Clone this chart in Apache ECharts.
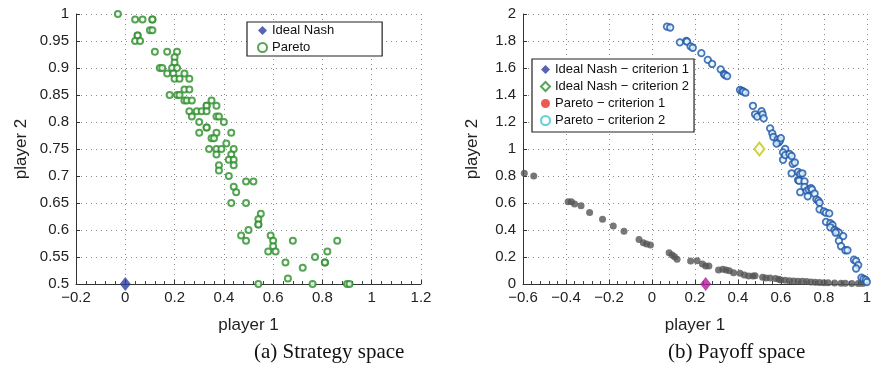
<!DOCTYPE html>
<html>
<head>
<meta charset="utf-8">
<script src="https://cdn.jsdelivr.net/npm/echarts@6/dist/echarts.min.js"></script>
<style>
  html, body { margin: 0; padding: 0; background: #fff; }
  #chart { width: 874px; height: 371px; }
</style>
</head>
<body>
<div id="chart"></div>
<script>
// (a) strategy space
const nashA = [[0, 0.5]]
const paretoAX = [-0.03, 0.04, 0.07, 0.11, 0.11, 0.10, 0.11, 0.05, 0.05, 0.04, 0.06,
  0.12, 0.17, 0.21, 0.20, 0.20, 0.14, 0.15, 0.19, 0.21, 0.17, 0.195, 0.24,
  0.20, 0.22, 0.26, 0.24, 0.26, 0.18, 0.21, 0.22, 0.24, 0.25, 0.27, 0.35,
  0.33, 0.33, 0.37, 0.26, 0.29, 0.31, 0.33, 0.27, 0.37, 0.38, 0.30, 0.40,
  0.33, 0.33, 0.30, 0.37, 0.43, 0.35, 0.36, 0.41, 0.34, 0.37, 0.39, 0.44,
  0.37, 0.43, 0.42, 0.44, 0.38, 0.44, 0.38, 0.42, 0.49, 0.52, 0.44, 0.45,
  0.43, 0.49, 0.55, 0.54, 0.54, 0.54, 0.50, 0.47, 0.59, 0.49, 0.60, 0.68, 0.86,
  0.60, 0.58, 0.61, 0.82, 0.77, 0.65, 0.81, 0.81, 0.72, 0.66, 0.54, 0.76, 0.90, 0.91]
const paretoAY = [1.0, 0.99, 0.99, 0.99, 0.99, 0.97, 0.97, 0.96, 0.96, 0.95, 0.95,
  0.93, 0.93, 0.93, 0.92, 0.91, 0.90, 0.90, 0.90, 0.90, 0.89, 0.89, 0.89,
  0.88, 0.88, 0.88, 0.86, 0.86, 0.85, 0.85, 0.85, 0.84, 0.84, 0.84, 0.84,
  0.83, 0.83, 0.83, 0.82, 0.82, 0.82, 0.82, 0.81, 0.81, 0.81, 0.80, 0.80,
  0.79, 0.79, 0.78, 0.78, 0.78, 0.77, 0.77, 0.76, 0.75, 0.75, 0.75, 0.75,
  0.74, 0.74, 0.73, 0.73, 0.72, 0.72, 0.71, 0.70, 0.69, 0.69, 0.68, 0.67,
  0.65, 0.65, 0.63, 0.62, 0.61, 0.61, 0.60, 0.59, 0.59, 0.58, 0.58, 0.58, 0.58,
  0.57, 0.56, 0.56, 0.56, 0.55, 0.54, 0.54, 0.54, 0.53, 0.51, 0.50, 0.50, 0.50, 0.50]

// (b) payoff space
const nash1B = [[0.25, 0]]
const nash2B = [[0.5, 1.0]]
const front1X = [-0.594, -0.55, -0.39, -0.375, -0.36, -0.33, -0.29, -0.23, -0.18, -0.13,
  -0.06, -0.04, -0.025, -0.007, 0.08, 0.094, 0.105, 0.117, 0.18, 0.21, 0.235, 0.25, 0.265,
  0.31, 0.33, 0.345, 0.36, 0.38, 0.41, 0.43, 0.45, 0.47, 0.48, 0.515, 0.53, 0.55, 0.575,
  0.59, 0.60, 0.62, 0.64, 0.66, 0.68, 0.70, 0.72, 0.74, 0.76, 0.78, 0.80, 0.82, 0.85,
  0.88, 0.90, 0.93, 0.96, 0.98]
const front1Y = [0.82, 0.80, 0.61, 0.61, 0.593, 0.58, 0.53, 0.48, 0.43, 0.39,
  0.33, 0.306, 0.296, 0.289, 0.232, 0.215, 0.202, 0.183, 0.17, 0.173, 0.148, 0.133, 0.133,
  0.104, 0.109, 0.104, 0.099, 0.084, 0.079, 0.067, 0.059, 0.059, 0.061, 0.05, 0.044, 0.044, 0.04,
  0.035, 0.03, 0.028, 0.025, 0.022, 0.02, 0.02, 0.018, 0.015, 0.013, 0.012, 0.01, 0.01, 0.008,
  0.006, 0.005, 0.004, 0.004, 0.003]
const front2X = [0.07, 0.085, 0.13, 0.16, 0.163, 0.18, 0.19, 0.23, 0.26, 0.28, 0.32, 0.335,
  0.34, 0.35, 0.41, 0.42, 0.425, 0.435, 0.47, 0.48, 0.49, 0.51, 0.515, 0.52, 0.55, 0.56,
  0.565, 0.585, 0.59, 0.595, 0.60, 0.58, 0.62, 0.61, 0.61, 0.62, 0.64, 0.65, 0.655, 0.665,
  0.65, 0.68, 0.69, 0.70, 0.68, 0.685, 0.71, 0.69, 0.71, 0.72, 0.73, 0.74, 0.745, 0.725,
  0.757, 0.765, 0.774, 0.78, 0.78, 0.80, 0.81, 0.825, 0.81, 0.83, 0.84, 0.83, 0.85, 0.86,
  0.87, 0.855, 0.89, 0.87, 0.88, 0.90, 0.91, 0.94, 0.95, 0.96, 0.95, 0.975, 0.985, 0.995, 1.0]
const front2Y = [1.906, 1.90, 1.79, 1.80, 1.795, 1.76, 1.75, 1.71, 1.66, 1.63, 1.59, 1.556,
  1.548, 1.54, 1.437, 1.43, 1.425, 1.417, 1.32, 1.257, 1.24, 1.28, 1.257, 1.227, 1.153, 1.116,
  1.089, 1.07, 1.05, 1.06, 1.08, 1.04, 1.0, 0.975, 0.92, 0.955, 0.963, 0.948, 0.89, 0.9,
  0.82, 0.83, 0.815, 0.82, 0.77, 0.765, 0.76, 0.68, 0.72, 0.69, 0.70, 0.71, 0.70, 0.65,
  0.67, 0.627, 0.617, 0.602, 0.553, 0.538, 0.528, 0.523, 0.46, 0.45, 0.437, 0.42, 0.40, 0.39,
  0.38, 0.38, 0.355, 0.32, 0.28, 0.25, 0.25, 0.18, 0.17, 0.14, 0.115, 0.047, 0.037, 0.03, 0.015]

const legendA = ['Ideal Nash', 'Pareto']
const legendB = ['Ideal Nash \u2212 criterion 1', 'Ideal Nash \u2212 criterion 2',
  'Pareto \u2212 criterion 1', 'Pareto \u2212 criterion 2']

const zip = (xs, ys) => xs.map((x, i) => [x, ys[i]])
const fmt = v => String(+v.toFixed(2)).replace('-', '\u2212')
const font = 'Liberation Sans, Arial, sans-serif'

function xAxisOf (grid, min, max) {
  return {
    gridIndex: grid,
    type: 'value',
    min: min,
    max: max,
    interval: 0.2,
    name: 'player 1',
    nameLocation: 'middle',
    nameGap: 33,
    nameTextStyle: { fontFamily: font, fontSize: 17, color: '#222' },
    axisLine: { show: true, onZero: false, lineStyle: { color: '#333', width: 1 } },
    axisTick: { inside: true, length: 4, lineStyle: { color: '#333' } },
    minorTick: { show: true, splitNumber: 5, length: 3, lineStyle: { color: '#444' } },
    axisLabel: { formatter: fmt, fontFamily: font, fontSize: 15, color: '#222', margin: 6 },
    splitLine: { show: true, lineStyle: { color: '#8a8a8a', type: [1, 4] } }
  }
}

function yAxisOf (grid, min, max, interval, gap) {
  return {
    gridIndex: grid,
    type: 'value',
    min: min,
    max: max,
    interval: interval,
    name: 'player 2',
    nameLocation: 'middle',
    nameGap: gap,
    nameTextStyle: { fontFamily: font, fontSize: 17, color: '#222' },
    axisLine: { show: true, onZero: false, lineStyle: { color: '#333', width: 1 } },
    axisTick: { inside: true, length: 4, lineStyle: { color: '#333' } },
    axisLabel: { formatter: fmt, fontFamily: font, fontSize: 15, color: '#222', margin: 7 },
    splitLine: { show: true, lineStyle: { color: '#8a8a8a', type: [1, 4] } }
  }
}

const legendStyle = {
  orient: 'vertical',
  itemWidth: 9,
  itemHeight: 9,
  itemGap: 4,
  borderColor: '#222',
  borderWidth: 1.2,
  borderRadius: 0,
  backgroundColor: '#fff',
  textStyle: { fontFamily: font, fontSize: 13, color: '#111', lineHeight: 13 }
}

const chart = echarts.init(document.getElementById('chart'))
chart.setOption({
  animation: false,
  grid: [
    { left: 76, right: 453, top: 14, bottom: 87 },
    { left: 523, right: 6, top: 14, bottom: 87 }
  ],
  xAxis: [xAxisOf(0, -0.2, 1.2), xAxisOf(1, -0.6, 1)],
  yAxis: [yAxisOf(0, 0.5, 1, 0.05, 46), yAxisOf(1, 0, 2, 0.2, 42)],
  legend: [
    Object.assign({}, legendStyle, { data: legendA, left: 247, top: 22, padding: [2, 48, 2, 10] }),
    Object.assign({}, legendStyle, { data: legendB, left: 532, top: 59, padding: [4, 5, 5, 8] })
  ],
  graphic: [
    { type: 'text', left: 254, top: 342, style: { text: '(a) Strategy space', font: '21px "Liberation Serif", "Times New Roman", serif', fill: '#111', textAlign: 'center' } },
    { type: 'text', left: 668, top: 342, style: { text: '(b) Payoff space', font: '21px "Liberation Serif", "Times New Roman", serif', fill: '#111', textAlign: 'center' } }
  ],
  series: [
    {
      name: 'Pareto', type: 'scatter', xAxisIndex: 0, yAxisIndex: 0, clip: false,
      symbol: 'emptyCircle', symbolSize: 6,
      itemStyle: { color: '#2a8f2a', borderColor: '#2a8f2a', borderWidth: 1.3 },
      data: zip(paretoAX, paretoAY)
    },
    {
      name: 'Ideal Nash', type: 'scatter', xAxisIndex: 0, yAxisIndex: 0, clip: false,
      symbol: 'diamond', symbolSize: [11, 14],
      itemStyle: { color: '#2b3f9e' },
      data: nashA
    },
    // legend entries of (b); the plotted marks use other colours
    { name: legendB[0], type: 'scatter', xAxisIndex: 1, yAxisIndex: 1, symbol: 'diamond', itemStyle: { color: '#2b3f9e' }, data: [] },
    { name: legendB[1], type: 'scatter', xAxisIndex: 1, yAxisIndex: 1, symbol: 'emptyDiamond', itemStyle: { color: '#2a8f2a', borderWidth: 1.3 }, data: [] },
    { name: legendB[2], type: 'scatter', xAxisIndex: 1, yAxisIndex: 1, symbol: 'circle', itemStyle: { color: '#e8302a' }, data: [] },
    { name: legendB[3], type: 'scatter', xAxisIndex: 1, yAxisIndex: 1, symbol: 'emptyCircle', itemStyle: { color: '#3ac6cf', borderWidth: 1.3 }, data: [] },
    {
      name: 'front1', type: 'scatter', xAxisIndex: 1, yAxisIndex: 1, clip: false,
      symbol: 'circle', symbolSize: 7,
      itemStyle: { color: '#555555' },
      data: zip(front1X, front1Y)
    },
    {
      name: 'front2', type: 'scatter', xAxisIndex: 1, yAxisIndex: 1, clip: false,
      symbol: 'circle', symbolSize: 6.5,
      itemStyle: { color: '#e4f8fb', borderColor: '#1e54a8', borderWidth: 1.8 },
      data: zip(front2X, front2Y)
    },
    {
      name: 'nash1', type: 'scatter', xAxisIndex: 1, yAxisIndex: 1, clip: false,
      symbol: 'diamond', symbolSize: [11, 14],
      itemStyle: { color: '#b01a9c' },
      data: nash1B
    },
    {
      name: 'nash2', type: 'scatter', xAxisIndex: 1, yAxisIndex: 1, clip: false,
      symbol: 'emptyDiamond', symbolSize: [10, 13],
      itemStyle: { color: '#c6c400', borderColor: '#c6c400', borderWidth: 1.6 },
      data: nash2B
    }
  ]
})
</script>
</body>
</html>
